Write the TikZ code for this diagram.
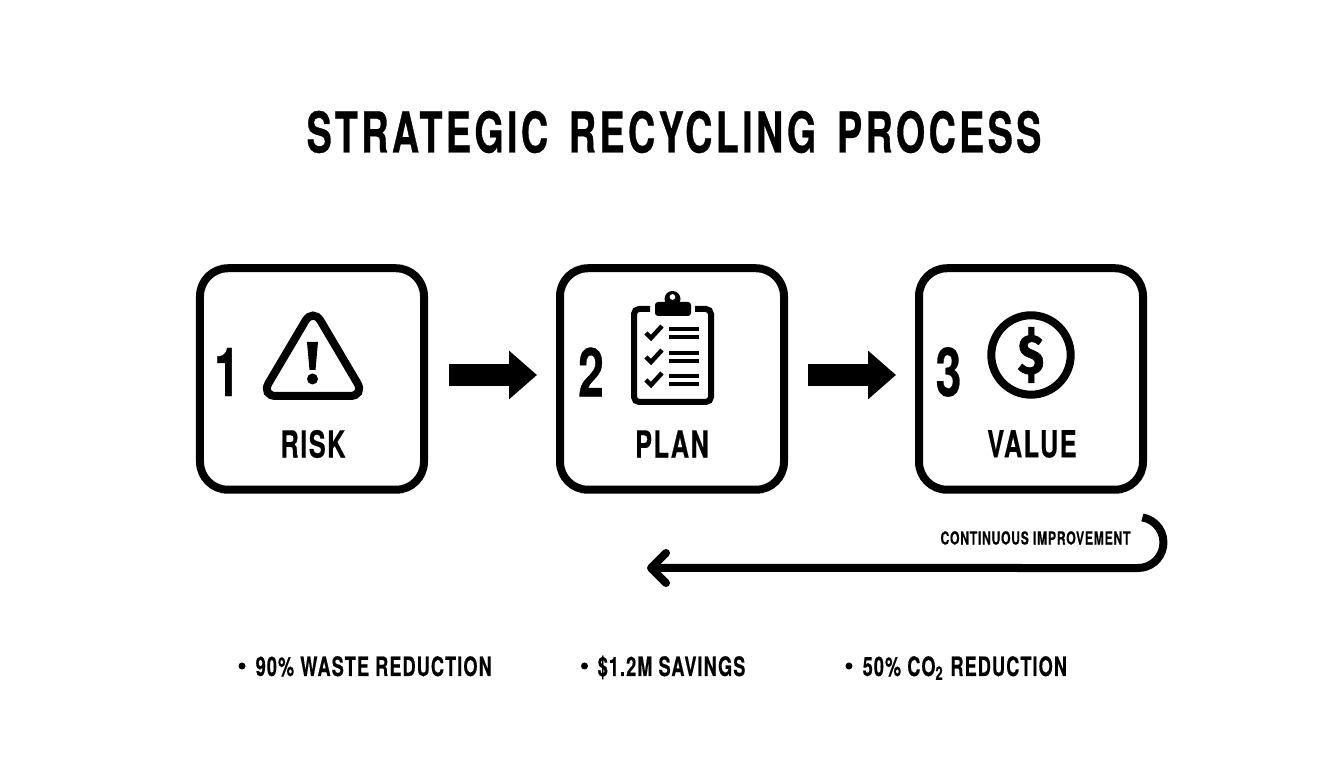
\documentclass[tikz,border=0pt]{standalone}
\usepackage{fontspec}
\usepackage{tikz}
\usetikzlibrary{arrows.meta}
\newfontfamily\condfont[FakeStretch=0.68,LetterSpace=4,FakeBold=0.4]{TeX Gyre Heros}
\newfontfamily\titlefont[FakeStretch=0.67,LetterSpace=6,FakeBold=0.6,WordSpace=1.5]{TeX Gyre Heros}
\newfontfamily\coinfont[FakeStretch=0.85,FakeBold=1]{Fira Sans}
\tikzset{
	stepbox/.style={draw,line width=0.08cm,rounded corners=0.28cm,minimum width=2.24cm,minimum height=2.215cm,inner sep=0pt,outer sep=0.04cm},
	numtext/.style={inner sep=0pt,font=\condfont\bfseries\fontsize{19.3pt}{19.3pt}\selectfont},
	steptext/.style={inner sep=0pt,font=\condfont\bfseries\fontsize{10.6pt}{10.6pt}\selectfont},
	facttext/.style={inner sep=0pt,anchor=base west,font=\condfont\bfseries\fontsize{7.6pt}{7.6pt}\selectfont},
	dot/.style={fill,circle,inner sep=0pt,minimum size=0.07cm},
	blockarrow/.style={line width=0.22cm,-{Triangle[length=0.28cm,width=0.47cm]}},
	iconline/.style={line width=0.06cm},
}
\begin{document}
\begin{tikzpicture}[x=1cm,y=1cm]
	\useasboundingbox (0,0) rectangle (13.44,7.68);
	\node[inner sep=0pt,font=\titlefont\bfseries\fontsize{16pt}{16pt}\selectfont] (title) at (6.74,6.36) {STRATEGIC RECYCLING PROCESS};
	% boxes
	\node[stepbox] (risk) at (3.12,3.89) {};
	\node[stepbox] (plan) at (6.72,3.89) {};
	\node[stepbox] (value) at (10.31,3.89) {};
	% numbers and names
	\node[numtext] (numa) at (2.27,3.96) {1};
	\node[numtext] (numb) at (5.91,3.96) {2};
	\node[numtext] (numc) at (9.485,3.96) {3};
	\node[steptext] (risklabel) at (3.13,3.24) {RISK};
	\node[steptext] (planlabel) at (6.72,3.24) {PLAN};
	\node[steptext] (valuelabel) at (10.32,3.24) {VALUE};
	% arrows between the boxes
	\draw[blockarrow,shorten <=0.21cm,shorten >=0.19cm] ([yshift=0.04cm]risk.east) -- ([yshift=0.04cm]plan.west);
	\draw[blockarrow,shorten <=0.2cm,shorten >=0.19cm] ([yshift=0.04cm]plan.east) -- ([yshift=0.04cm]value.west);
	% warning triangle
	\draw[line width=0.08cm,rounded corners=0.15cm] (3.13,4.60) -- (3.65,3.72) -- (2.61,3.72) -- cycle;
	\fill (3.07,4.26) -- (3.18,4.26) -- (3.155,3.98) -- (3.095,3.98) -- cycle;
	\fill (3.125,3.89) circle (0.055);
	% clipboard
	\draw[iconline,rounded corners=0.05cm] (6.5,4.59) -- (6.34,4.59) -- (6.34,3.66) -- (7.11,3.66) -- (7.11,4.59) -- (6.95,4.59);
	\fill[rounded corners=0.03cm] (6.55,4.66) rectangle (6.91,4.52);
	\fill[even odd rule] (6.725,4.69) circle (0.08) (6.725,4.71) circle (0.03);
	\foreach \y in {4.35,4.11,3.88} {
		\draw[line width=0.045cm] (6.46,\y) -- (6.51,\y-0.05) -- (6.62,\y+0.07);
		\draw[line width=0.04cm] (6.69,\y+0.04) -- (6.99,\y+0.04);
		\draw[line width=0.04cm] (6.69,\y-0.04) -- (6.99,\y-0.04);
	}
	% dollar coin
	\draw[line width=0.08cm] (10.31,4.13) circle (0.397);
	\node[inner sep=0pt,font=\coinfont\bfseries\fontsize{16pt}{16pt}\selectfont] (dollar) at (10.31,4.13) {\$};
	% loop back
	\coordinate (loopstart) at (11.424,2.506);
	\coordinate (loopend) at (6.47,2.0);
	\node[inner sep=0pt,font=\condfont\bfseries\fontsize{5.1pt}{5.1pt}\selectfont] (looplabel) at (10.355,2.3) {CONTINUOUS IMPROVEMENT};
	\draw[line width=0.08cm,-{Straight Barb[length=0.15cm,width=0.3cm,round]}] (loopstart) arc (80:-90:0.255) -- (loopend);
	% facts
	\node[dot] (dota) at (2.42,1.02) {};
	\node[facttext] (facta) at (2.55,0.92) {90\% WASTE REDUCTION};
	\node[dot] (dotb) at (5.845,1.02) {};
	\node[facttext] (factb) at (5.97,0.92) {\$1.2M SAVINGS};
	\node[dot] (dotc) at (8.49,1.02) {};
	\node[facttext] (factc) at (8.62,0.92) {50\% CO\textsubscript{2} REDUCTION};
\end{tikzpicture}
\end{document}
